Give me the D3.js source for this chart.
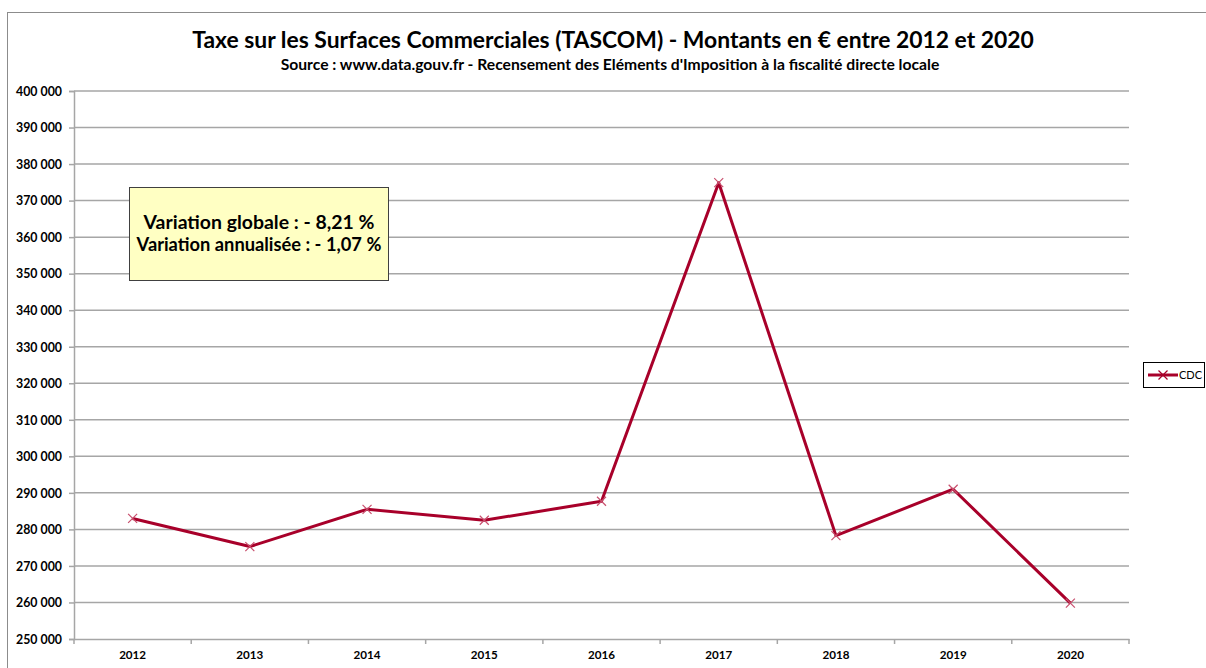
<!DOCTYPE html>
<html><head><meta charset="utf-8">
<script src="https://cdn.jsdelivr.net/npm/d3@7"></script>
<style>body{margin:0;background:#fff;} svg{display:block;font-family:Lato,"Open Sans",sans-serif;}</style>
</head><body>
<svg id="chart" width="1206" height="668"></svg>
<script>
const years = ["2012","2013","2014","2015","2016","2017","2018","2019","2020"];
const cdcValues = [283000, 275300, 285500, 282500, 287700, 374900, 278300, 291000, 259800];
const yTicks = [250000,260000,270000,280000,290000,300000,310000,320000,330000,340000,350000,360000,370000,380000,390000,400000];
const titleText = "Taxe sur les Surfaces Commerciales (TASCOM) - Montants en € entre 2012 et 2020";
const subtitleText = "Source : www.data.gouv.fr - Recensement des Eléments d'Imposition à la fiscalité directe locale";
const noteLines = ["Variation globale : - 8,21 %", "Variation annualisée : - 1,07 %"];
const seriesName = "CDC";

const svg = d3.select("#chart");
const m = {left:74, top:91, right:1129, bottom:639};
const lineColor = "#A8002A", markerColor = "#C8506E", gridColor = "#A6A6A6";

svg.append("rect").attr("x",7.5).attr("y",12.5).attr("width",1220).attr("height",700)
  .attr("fill","#fff").attr("stroke","#8c8c8c").attr("stroke-width",1);

function fitText(sel, target){
  const w = sel.node().getComputedTextLength();
  const fs = parseFloat(sel.attr("font-size"));
  const nfs = fs*target/w;
  sel.attr("font-size", nfs);
  return nfs;
}

const t = svg.append("text").attr("x",613).attr("y",48).attr("text-anchor","middle")
  .attr("font-size",20).attr("font-weight","bold").attr("fill","#000").text(titleText);
fitText(t, 842);
const st = svg.append("text").attr("x",610).attr("y",70).attr("text-anchor","middle")
  .attr("font-size",13).attr("font-weight","bold").attr("fill","#000").text(subtitleText);
fitText(st, 659);

const x = d3.scaleBand().domain(years).range([m.left, m.right]);
const y = d3.scaleLinear().domain([250000,400000]).range([m.bottom, m.top]);
const fmt = v => d3.format(",")(v).replace(/,/g," ");

svg.append("g").selectAll("line").data(yTicks.filter(v=>v>250000)).join("line")
  .attr("x1",m.left).attr("x2",m.right).attr("y1",d=>y(d)).attr("y2",d=>y(d))
  .attr("stroke",gridColor).attr("stroke-width",1.5);

const yAxis = svg.append("g").attr("transform",`translate(${m.left},0)`)
  .call(d3.axisLeft(y).tickValues(yTicks).tickFormat(fmt).tickSize(5).tickPadding(7));
yAxis.select(".domain").attr("stroke",gridColor).attr("stroke-width",1.5);
yAxis.selectAll(".tick line").attr("stroke",gridColor).attr("stroke-width",1.5);
const yLabels = yAxis.selectAll("text").attr("font-size",11.5).attr("font-weight","bold").attr("fill","#000")
  .attr("font-family","Lato,sans-serif");
const yfs = fitText(d3.select(yLabels.nodes()[0]), 46);
yLabels.attr("font-size", yfs).attr("dy","0.35em");

const xAxis = svg.append("g").attr("transform",`translate(0,${m.bottom})`)
  .call(d3.axisBottom(x).tickSize(0).tickPadding(12));
xAxis.select(".domain").attr("stroke",gridColor).attr("stroke-width",1.5);
const xLabels = xAxis.selectAll("text").attr("font-size",11.5).attr("font-weight","bold").attr("fill","#000")
  .attr("font-family","Lato,sans-serif");
const xfs = fitText(d3.select(xLabels.nodes()[0]), 27);
xLabels.attr("font-size", xfs);
svg.append("g").selectAll("line").data(years.concat(["end"])).join("line")
  .attr("x1",(d,i)=>m.left + i*x.step()).attr("x2",(d,i)=>m.left + i*x.step())
  .attr("y1",m.bottom).attr("y2",m.bottom+5).attr("stroke",gridColor).attr("stroke-width",1.5);

const cx = (d,i)=>x(years[i])+x.bandwidth()/2;
svg.append("path").datum(cdcValues)
  .attr("d", d3.line().x(cx).y(d=>y(d)))
  .attr("fill","none").attr("stroke",lineColor).attr("stroke-width",3).attr("stroke-linejoin","round");
const mk = 4.5;
const g = svg.append("g").selectAll("g").data(cdcValues).join("g")
  .attr("transform",(d,i)=>`translate(${cx(d,i)},${y(d)})`);
g.append("path").attr("d",`M${-mk},${-mk}L${mk},${mk}M${-mk},${mk}L${mk},${-mk}`)
  .attr("stroke",markerColor).attr("stroke-width",1.2).attr("fill","none");

svg.append("rect").attr("x",129.5).attr("y",187.5).attr("width",259).attr("height",93)
  .attr("fill","#FFFFC3").attr("stroke","#404040").attr("stroke-width",1);
noteLines.forEach((s,i)=>{
  const tt = svg.append("text").attr("x",259).attr("y",229+i*22).attr("text-anchor","middle")
    .attr("font-size",16).attr("font-weight","bold").attr("fill","#000").text(s);
  fitText(tt, i===0?231:245);
});

svg.append("rect").attr("x",1143.5).attr("y",362.5).attr("width",61).attr("height",25)
  .attr("fill","#fff").attr("stroke","#000").attr("stroke-width",1);
svg.append("line").attr("x1",1148).attr("x2",1178).attr("y1",375).attr("y2",375)
  .attr("stroke",lineColor).attr("stroke-width",3);
svg.append("path").attr("d",`M${1163-mk},${375-mk}L${1163+mk},${375+mk}M${1163-mk},${375+mk}L${1163+mk},${375-mk}`)
  .attr("stroke",lineColor).attr("stroke-width",1.2);
svg.append("text").attr("x",1179).attr("y",379).attr("font-size",11).attr("fill","#000").text(seriesName);
</script>
</body></html>
